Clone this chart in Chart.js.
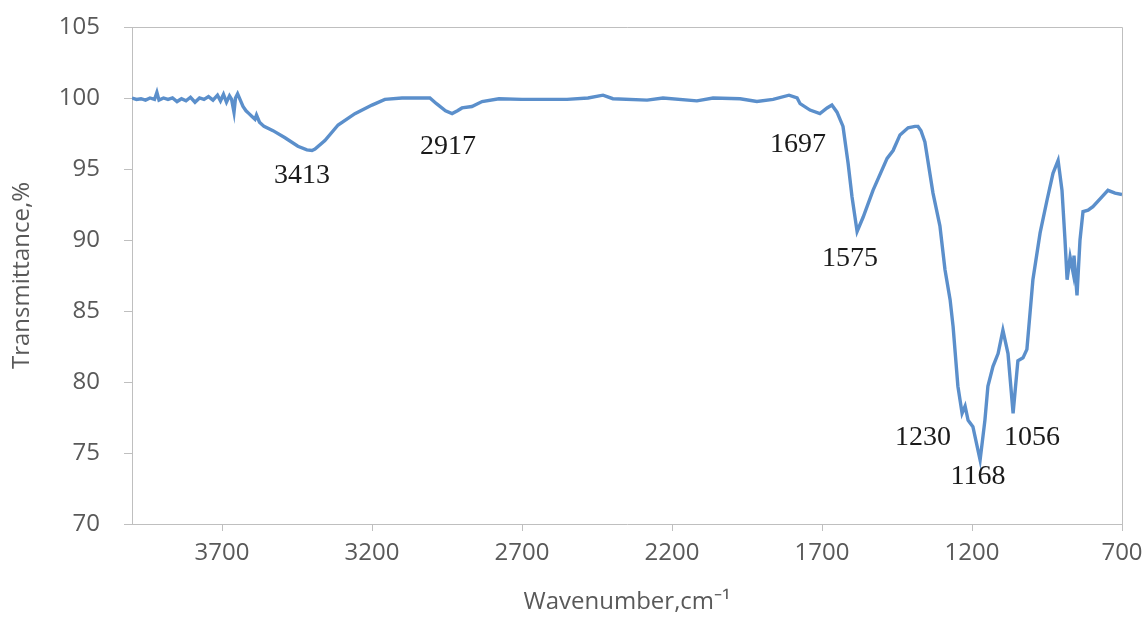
<!DOCTYPE html>
<html>
<head>
<meta charset="utf-8">
<script src="https://cdn.jsdelivr.net/npm/chart.js@4.4.1/dist/chart.umd.min.js"></script>
<style>
  html, body { margin: 0; padding: 0; background: #fff; }
  #wrap { width: 1146px; height: 618px; }
</style>
</head>
<body>
<div id="wrap"><canvas id="spectrum" width="1146" height="618"></canvas></div>
<script>
// FTIR spectrum, values
const wavenumbers = [
  4000, 3985, 3970, 3955, 3940, 3925, 3917, 3910, 3895, 3880, 3865, 3850, 3835, 3820,
  3805, 3790, 3775, 3760, 3745, 3730, 3715, 3705, 3695, 3685, 3675, 3668, 3660, 3655,
  3648, 3640, 3630, 3620, 3610, 3600, 3590, 3585, 3575, 3560, 3530, 3490, 3447, 3417,
  3400, 3390, 3357, 3313, 3257, 3200, 3157, 3100, 3007, 2985, 2955, 2933, 2915, 2900,
  2867, 2833, 2777, 2700, 2600, 2550, 2480, 2430, 2397, 2283, 2230, 2117, 2063, 1973,
  1917, 1863, 1810, 1783, 1773, 1740, 1707, 1683, 1667, 1650, 1630, 1613, 1600, 1583,
  1563, 1530, 1483, 1463, 1440, 1413, 1390, 1380, 1370, 1357, 1330, 1307, 1290, 1273,
  1263, 1247, 1233, 1223, 1213, 1197, 1173, 1157, 1147, 1130, 1113, 1097, 1080, 1063,
  1047, 1030, 1017, 997, 973, 950, 930, 913, 900, 890, 883, 873, 863, 860,
  850, 840, 830, 813, 797, 773, 747, 723, 700
];
const transmittance = [
  100.0, 99.9, 99.95, 99.85, 100.0, 99.9, 100.4, 99.85, 100.0, 99.9, 100.0, 99.75, 99.95, 99.8,
  100.05, 99.7, 100.0, 99.9, 100.1, 99.85, 100.2, 99.8, 100.25, 99.7, 100.15, 99.9, 99.0, 100.0,
  100.3, 99.9, 99.4, 99.1, 98.9, 98.7, 98.5, 98.8, 98.3, 98.0, 97.7, 97.2, 96.6, 96.35,
  96.3, 96.4, 97.0, 98.1, 98.9, 99.5, 99.9, 100.0, 100.0, 99.6, 99.1, 98.9, 99.1, 99.3,
  99.4, 99.75, 99.95, 99.9, 99.9, 99.9, 100.0, 100.2, 99.95, 99.85, 100.0, 99.8, 100.0, 99.95,
  99.75, 99.9, 100.2, 100.0, 99.6, 99.15, 98.9, 99.3, 99.5, 99.0, 98.0, 95.4, 93.05, 90.6,
  91.6, 93.5, 95.75, 96.3, 97.4, 97.9, 98.0, 98.0, 97.7, 96.9, 93.3, 91.0, 87.9, 85.8,
  83.9, 79.7, 77.8, 78.3, 77.3, 76.85, 74.5, 77.3, 79.7, 81.1, 82.0, 83.65, 82.0, 77.8,
  81.5, 81.7, 82.3, 87.2, 90.5, 92.8, 94.7, 95.6, 93.5, 90.0, 87.2, 88.8, 87.7, 88.9,
  86.1, 90.0, 92.0, 92.1, 92.35, 92.9, 93.5, 93.3, 93.2
];

const xTicks = [3700, 3200, 2700, 2200, 1700, 1200, 700];
const yTicks = [70, 75, 80, 85, 90, 95, 100, 105];

// peak annotations: text and where it sits (in data units)
const peakLabels = ["3413", "2917", "1697", "1575", "1230", "1168", "1056"];
const peakLabelX = [3433, 2947, 1780, 1607, 1363, 1180, 1000];
const peakLabelY = [94.5, 96.55, 96.75, 88.66, 76.06, 73.3, 76.06];

const axisColor = "#bfbfbf";
const textColor = "#595959";
const sans = "'Open Sans', sans-serif";

const framePlugin = {
  id: "frame",
  beforeDatasetsDraw(chart) {
    const { ctx, chartArea: a } = chart;
    ctx.save();
    ctx.strokeStyle = axisColor;
    ctx.lineWidth = 1;
    ctx.beginPath();
    ctx.moveTo(a.left, a.top + 0.5);
    ctx.lineTo(a.right + 0.5, a.top + 0.5);
    ctx.lineTo(a.right + 0.5, a.bottom);
    ctx.stroke();
    ctx.restore();
  },
  afterDatasetsDraw(chart) {
    const { ctx, scales } = chart;
    ctx.save();
    ctx.font = "28px 'Liberation Serif', serif";
    ctx.fillStyle = "#1a1a1a";
    ctx.textAlign = "center";
    ctx.textBaseline = "middle";
    peakLabels.forEach((t, i) => {
      ctx.fillText(t, scales.x.getPixelForValue(peakLabelX[i]), scales.y.getPixelForValue(peakLabelY[i]));
    });
    ctx.restore();
  },
};

new Chart(document.getElementById("spectrum"), {
  type: "line",
  data: {
    datasets: [
      {
        data: wavenumbers.map((w, i) => ({ x: w, y: transmittance[i] })),
        borderColor: "#5b8fcb",
        borderWidth: 3.4,
        pointRadius: 0,
        tension: 0,
        fill: false,
      },
    ],
  },
  options: {
    responsive: false,
    animation: false,
    devicePixelRatio: 1,
    layout: { padding: { top: 27, right: 24, left: 0, bottom: 0 } },
    plugins: { legend: { display: false }, tooltip: { enabled: false } },
    scales: {
      x: {
        type: "linear",
        reverse: true,
        min: 700,
        max: 4000,
        afterBuildTicks(s) {
          s.ticks = xTicks.map((value) => ({ value }));
        },
        afterFit(s) {
          s.height = 94;
          s.paddingLeft = 0;
          s.paddingRight = 0;
        },
        grid: { drawOnChartArea: false, color: axisColor, tickLength: 7 },
        border: { color: axisColor },
        ticks: {
          color: textColor,
          font: { family: sans, size: 24 },
          padding: 8,
          maxRotation: 0,
          autoSkip: false,
          callback: (v) => String(v),
        },
        title: {
          display: true,
          text: "Wavenumber,cm\u207B\u00B9",
          color: textColor,
          font: { family: sans, size: 24 },
          padding: { top: 0, bottom: 1 },
        },
      },
      y: {
        min: 70,
        max: 105,
        afterBuildTicks(s) {
          s.ticks = yTicks.map((value) => ({ value }));
        },
        afterFit(s) {
          s.width = 132;
          s.paddingTop = 0;
          s.paddingBottom = 0;
        },
        grid: { drawOnChartArea: false, color: axisColor, tickLength: 8 },
        border: { color: axisColor },
        ticks: {
          color: textColor,
          font: { family: sans, size: 24 },
          padding: 24,
          callback: (v) => String(v),
        },
        title: {
          display: true,
          text: "Transmittance,%",
          color: textColor,
          font: { family: sans, size: 24 },
          padding: { top: 8, bottom: 0 },
        },
      },
    },
  },
  plugins: [framePlugin],
});
</script>
</body>
</html>
